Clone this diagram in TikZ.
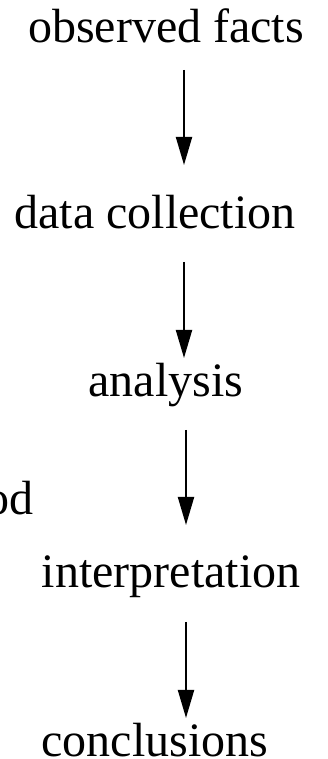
\documentclass[tikz,border=0pt]{standalone}
\usepackage{fontspec}
\setmainfont{Liberation Serif}
\usetikzlibrary{arrows.meta}
\begin{document}
\begin{tikzpicture}[x=1pt,y=1pt,
  lbl/.style={inner sep=0pt,anchor=base,font=\fontsize{48}{56}\selectfont},
  arr/.style={line width=2pt,-{Triangle[length=28pt,width=16pt]}}]
\useasboundingbox (0,0) rectangle (327,759);
\clip (0,0) rectangle (327,759);
\node[lbl] (obs) at (166,716) {observed facts};
\node[lbl] (data) at (155,530) {data collection};
\node[lbl] (ana) at (166,362) {analysis};
\node[lbl,anchor=base east] (od) at (34,244) {od};
\node[lbl] (int) at (171,171) {interpretation};
\node[lbl] (con) at (155,2) {conclusions};
\coordinate (a1s) at (184,689);
\coordinate (a1e) at (184,594);
\coordinate (a2s) at (184,497);
\coordinate (a2e) at (184,401);
\coordinate (a3s) at (186,329);
\coordinate (a3e) at (186,234);
\coordinate (a4s) at (186,137);
\coordinate (a4e) at (186,41);
\draw[arr] (a1s) -- (a1e);
\draw[arr] (a2s) -- (a2e);
\draw[arr] (a3s) -- (a3e);
\draw[arr] (a4s) -- (a4e);
\end{tikzpicture}
\end{document}
